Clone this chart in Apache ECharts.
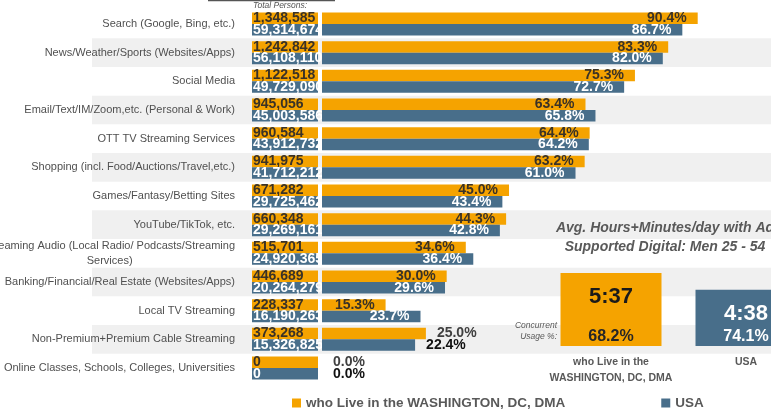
<!DOCTYPE html>
<html>
<head>
<meta charset="utf-8">
<script src="https://cdn.jsdelivr.net/npm/echarts@6/dist/echarts.min.js"></script>
<style>
html,body{margin:0;padding:0;background:#fff;}
#c{width:771px;height:414px;}
</style>
</head>
<body>
<div id="c"></div>
<script>
var categories = [
  'Search (Google, Bing, etc.)',
  'News/Weather/Sports (Websites/Apps)',
  'Social Media',
  'Email/Text/IM/Zoom,etc. (Personal & Work)',
  'OTT TV Streaming Services',
  'Shopping (incl. Food/Auctions/Travel,etc.)',
  'Games/Fantasy/Betting Sites',
  'YouTube/TikTok, etc.',
  'Streaming Audio (Local Radio/ Podcasts/Streaming Services)',
  'Banking/Financial/Real Estate (Websites/Apps)',
  'Local TV Streaming',
  'Non-Premium+Premium Cable Streaming',
  'Online Classes, Schools, Colleges, Universities'
];
var dmaPct = [90.4, 83.3, 75.3, 63.4, 64.4, 63.2, 45.0, 44.3, 34.6, 30.0, 15.3, 25.0, 0.0];
var usaPct = [86.7, 82.0, 72.7, 65.8, 64.2, 61.0, 43.4, 42.8, 36.4, 29.6, 23.7, 22.4, 0.0];
var dmaPersons = [1348585, 1242842, 1122518, 945056, 960584, 941975, 671282, 660348, 515701, 446689, 228337, 373268, 0];
var usaPersons = [59314674, 56108110, 49729090, 45003586, 43912732, 41712212, 29725462, 29269161, 24920365, 20264279, 16190263, 15326825, 0];
var dmaName = 'who Live in the WASHINGTON, DC, DMA';
var usaName = 'USA';
var boxCategories = ['who Live in the\nWASHINGTON, DC, DMA', 'USA'];
var boxMinutes = [337, 278];
var boxConcurrent = [68.2, 74.1];

var ORANGE = '#F5A300', BLUE = '#486E8A';
var SANS = '"Liberation Sans", Arial, sans-serif';
var TOP = 9.7, BOTTOM = 31.7;
var LBL = 11;

function fmtNum(n){ return n.toLocaleString('en-US'); }
function fmtTime(m){ var h = Math.floor(m/60), mm = m%60; return h + ':' + (mm<10?'0':'') + mm; }

var outsideRows = [11, 12];
function pctData(arr, darkColor){
  return arr.map(function(v, i){
    var out = outsideRows.indexOf(i) >= 0;
    return {value: v, label: out ? {position: 'right', color: darkColor} : {}};
  });
}

var gridBase = {outerBoundsMode: 'none', containLabel: false};
function g(o){ var r = {}; for (var k in gridBase) r[k] = gridBase[k]; for (var k2 in o) r[k2] = o[k2]; return r; }

var chart = echarts.init(document.getElementById('c'), null, {renderer: 'canvas'});
chart.setOption({
  animation: false,
  backgroundColor: '#ffffff',
  grid: [
    g({left: 92, right: 0, top: TOP, bottom: BOTTOM}),
    g({left: 252, width: 66, top: TOP, bottom: BOTTOM}),
    g({left: 322, right: 33.4, top: TOP, bottom: BOTTOM}),
    g({left: 543.5, right: -42.5, top: 246, bottom: 68})
  ],
  xAxis: [
    {gridIndex: 0, type: 'value', show: false, min: 0, max: 1},
    {gridIndex: 1, type: 'value', show: false, min: 0, max: 1},
    {gridIndex: 2, type: 'value', show: false, min: 0, max: 100},
    {gridIndex: 3, type: 'category', data: boxCategories,
      axisLine: {show: false}, axisTick: {show: false},
      axisLabel: {margin: 8, color: '#595959', fontFamily: SANS, fontWeight: 'bold', fontSize: 10.5, lineHeight: 16, interval: 0}}
  ],
  yAxis: [
    {gridIndex: 0, type: 'category', data: categories, inverse: true,
      axisLine: {show: false}, axisTick: {show: false}, axisLabel: {show: false},
      splitArea: {show: true, areaStyle: {color: ['rgba(255,255,255,0)', '#f0f0f0']}}},
    {gridIndex: 1, type: 'category', data: categories, inverse: true,
      axisLine: {show: false}, axisTick: {show: false},
      axisLabel: {margin: 17, color: '#505050', fontFamily: SANS, fontSize: LBL, align: 'right', hideOverlap: false,
        formatter: function(v){
          if (v.indexOf('Streaming Audio') === 0) {
            return '{a|Streaming Audio (Local Radio/ Podcasts/Streaming}\n{b|Services)}';
          }
          return v;
        },
        rich: {
          a: {color: '#505050', fontFamily: SANS, fontSize: LBL, lineHeight: 15, align: 'right'},
          b: {color: '#505050', fontFamily: SANS, fontSize: LBL, lineHeight: 15, align: 'center'}
        }}},
    {gridIndex: 2, type: 'category', data: categories, inverse: true, show: false},
    {gridIndex: 3, type: 'value', show: false, min: 80, max: 432}
  ],
  legend: {
    left: 292, top: 396, padding: 0, itemWidth: 9, itemHeight: 9, itemGap: 96, icon: 'rect',
    data: [dmaName, usaName],
    textStyle: {color: '#595959', fontFamily: SANS, fontWeight: 'bold', fontSize: 13.5}
  },
  series: [
    {name: dmaName, type: 'bar', xAxisIndex: 1, yAxisIndex: 1, z: 3,
      barWidth: 11.5, barGap: '0%', itemStyle: {color: ORANGE},
      data: dmaPersons.map(function(c){ return {value: 1, persons: c}; }),
      label: {show: true, position: 'insideLeft', distance: 1, color: '#3a3226', fontFamily: SANS, fontWeight: 'bold', fontSize: 14,
        formatter: function(p){ return fmtNum(dmaPersons[p.dataIndex]); }}},
    {name: usaName, type: 'bar', xAxisIndex: 1, yAxisIndex: 1, z: 3,
      barWidth: 11.5, barGap: '0%', itemStyle: {color: BLUE},
      data: usaPersons.map(function(c){ return {value: 1, persons: c}; }),
      label: {show: true, position: 'insideLeft', distance: 1, color: '#ffffff', fontFamily: SANS, fontWeight: 'bold', fontSize: 14,
        formatter: function(p){ return fmtNum(usaPersons[p.dataIndex]); }}},
    {name: dmaName, type: 'bar', xAxisIndex: 2, yAxisIndex: 2, z: 5,
      barWidth: 11.5, barGap: '0%', itemStyle: {color: ORANGE},
      data: pctData(dmaPct, '#404040'),
      label: {show: true, position: 'insideRight', distance: 11, color: '#3a3226', fontFamily: SANS, fontWeight: 'bold', fontSize: 14,
        formatter: function(p){ return p.value.toFixed(1) + '%'; }}},
    {name: usaName, type: 'bar', xAxisIndex: 2, yAxisIndex: 2, z: 5,
      barWidth: 11.5, barGap: '0%', itemStyle: {color: BLUE},
      data: pctData(usaPct, '#111111'),
      label: {show: true, position: 'insideRight', distance: 11, color: '#ffffff', fontFamily: SANS, fontWeight: 'bold', fontSize: 14,
        formatter: function(p){ return p.value.toFixed(1) + '%'; }}},
    {name: 'boxTime', type: 'bar', xAxisIndex: 3, yAxisIndex: 3, z: 3, barWidth: 101, barGap: '-100%',
      data: boxMinutes.map(function(v, i){
        return {value: v, itemStyle: {color: i === 0 ? ORANGE : BLUE},
          label: {color: i === 0 ? '#1a1a1a' : '#ffffff'}};
      }),
      label: {show: true, position: 'insideTop', distance: 13, fontFamily: SANS, fontWeight: 'bold', fontSize: 22,
        formatter: function(p){ return fmtTime(p.value); }}},
    {name: 'boxConc', type: 'bar', xAxisIndex: 3, yAxisIndex: 3, z: 4, barWidth: 101, barGap: '-100%',
      itemStyle: {color: 'rgba(0,0,0,0)'},
      data: boxMinutes.map(function(v, i){
        return {value: v, label: {color: i === 0 ? '#262626' : '#ffffff'}};
      }),
      label: {show: true, position: 'insideBottom', distance: 1, fontFamily: SANS, fontWeight: 'bold', fontSize: 16,
        formatter: function(p){ return boxConcurrent[p.dataIndex].toFixed(1) + '%'; }}}
  ],
  graphic: [
    {type: 'line', z: 100, shape: {x1: 208, y1: 0.5, x2: 335, y2: 0.5}, style: {stroke: '#555', lineWidth: 1.5}, silent: true},
    {type: 'text', z: 100, left: 253, top: 1, style: {text: 'Total Persons:', fill: '#555', font: 'italic 8.5px ' + SANS}},
    {type: 'text', z: 100, x: 665, y: 237.5, style: {text: 'Avg. Hours+Minutes/day with Ad\nSupported Digital: Men 25 - 54',
      fill: '#595959', font: 'italic bold 14px ' + SANS, align: 'center', verticalAlign: 'middle', lineHeight: 19}},
    {type: 'text', z: 100, x: 557, y: 331.5, style: {text: 'Concurrent\nUsage %:', fill: '#595959',
      font: 'italic 8.5px ' + SANS, align: 'right', verticalAlign: 'middle', lineHeight: 11}}
  ]
});
</script>
</body>
</html>
